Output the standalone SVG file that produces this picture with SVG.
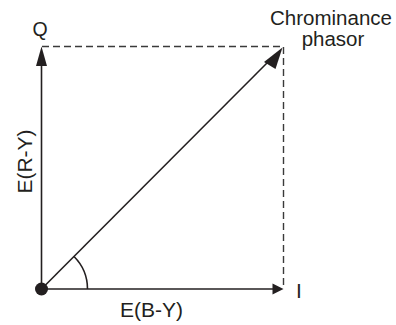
<svg xmlns="http://www.w3.org/2000/svg" width="396" height="325" viewBox="0 0 396 325">
<style>
.ax{stroke:#231f20;stroke-width:1.6;fill:none}
.dash{stroke:#3a3a3a;stroke-width:1.4;fill:none;stroke-dasharray:7,4}
.t{font-family:"Liberation Sans",Arial,sans-serif;fill:#231f20}
.hd{fill:#231f20}
</style>
<rect width="396" height="325" fill="#fff"/>
<g id="connectors">
<path class="dash" d="M42,46.5 H283.5 V289"/>
<line class="ax" x1="41.5" y1="289" x2="41.5" y2="64"/>
<polygon class="hd" points="41.5,46.5 36,66 47,66"/>
<line class="ax" x1="41.5" y1="289" x2="273" y2="289"/>
<polygon class="hd" points="283.5,289 272.5,283.5 272.5,294.5"/>
<line class="ax" x1="41.5" y1="289" x2="270" y2="60"/>
<polygon class="hd" points="282.5,47.5 264,62 275.5,69"/>
<path class="ax" d="M87.5,289 A46,46 0 0 0 74,256.5" stroke-width="1.3"/>
</g>
<g id="origin"><circle cx="41.5" cy="289" r="6.5" fill="#231f20"/></g>
<g id="q"><text class="t" x="40" y="36" font-size="19.5" text-anchor="middle">Q</text></g>
<g id="i"><text class="t" x="299" y="297.5" font-size="21" text-anchor="middle">I</text></g>
<g id="chrom"><text class="t" font-size="20.5" text-anchor="middle"><tspan x="331" y="25" textLength="122" lengthAdjust="spacingAndGlyphs">Chrominance</tspan><tspan x="333" y="46">phasor</tspan></text></g>
<g id="eby"><text class="t" x="151.5" y="317" font-size="21" text-anchor="middle">E(B-Y)</text></g>
<g id="ery"><text class="t" transform="translate(31.5,161.5) rotate(-90)" font-size="21" text-anchor="middle">E(R-Y)</text></g>
</svg>
